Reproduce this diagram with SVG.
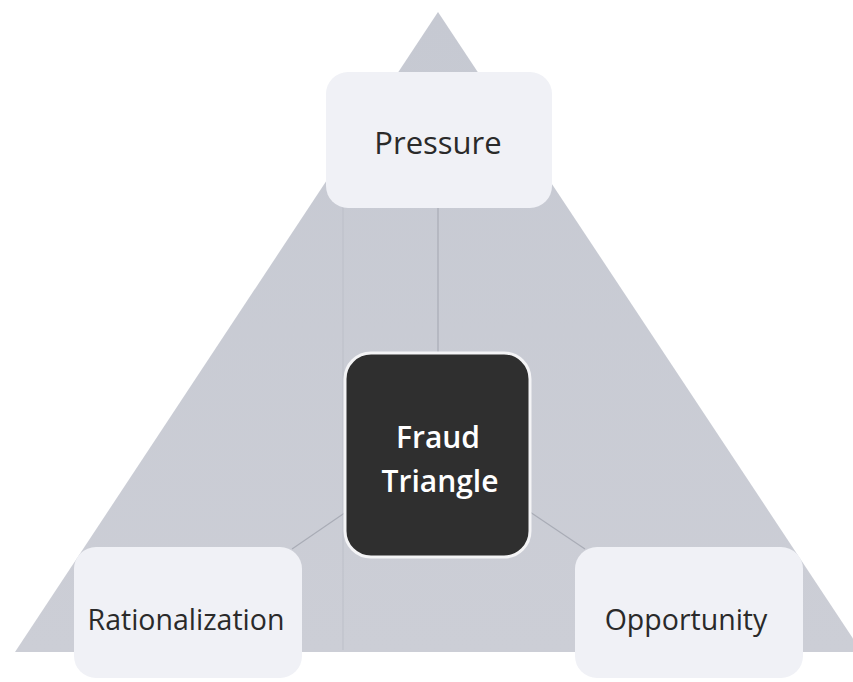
<svg xmlns="http://www.w3.org/2000/svg" width="853" height="682" viewBox="0 0 853 682">
<defs>
<linearGradient id="tri" x1="0" y1="0" x2="0" y2="1">
<stop offset="0" stop-color="#c6c9d2"/>
<stop offset="1" stop-color="#ccced6"/>
</linearGradient>
<style>
.box{fill:#f0f1f6;}
.lbl{font-family:"Open Sans","Liberation Sans",sans-serif;font-size:31px;fill:#2a2a2a;text-anchor:middle;}
.sm{font-size:28.5px;}
.ctr{font-family:"Open Sans","Liberation Sans",sans-serif;font-size:30px;font-weight:600;fill:#ffffff;text-anchor:middle;}
.con{stroke:#a9acb6;stroke-width:1.2;fill:none;}
</style>
</defs>
<rect width="853" height="682" fill="#ffffff"/>
<polygon points="438,12 15,652 862,652" fill="url(#tri)"/>
<line x1="343" y1="205" x2="343" y2="650" stroke="#bcbfc8" stroke-width="1"/>
<g id="connectors">
<line class="con" x1="438" y1="208" x2="438" y2="353"/>
<line class="con" x1="346" y1="512" x2="292" y2="549"/>
<line class="con" x1="530" y1="512" x2="585" y2="549"/>
</g>
<g id="pressure">
<rect class="box" x="326" y="72" width="226" height="136" rx="22"/>
<text class="lbl" x="438" y="154">Pressure</text>
</g>
<g id="fraud-triangle">
<rect x="345" y="353" width="185" height="204" rx="26" fill="#2f2f2f" stroke="#f4f4f6" stroke-width="3"/>
<text class="ctr" x="438" y="448">Fraud</text>
<text class="ctr" x="440" y="492">Triangle</text>
</g>
<g id="rationalization">
<rect class="box" x="74" y="547" width="228" height="131" rx="22"/>
<text class="lbl sm" x="186" y="630">Rationalization</text>
</g>
<g id="opportunity">
<rect class="box" x="575" y="547" width="228" height="131" rx="22"/>
<text class="lbl sm" x="686" y="630">Opportunity</text>
</g>
</svg>
